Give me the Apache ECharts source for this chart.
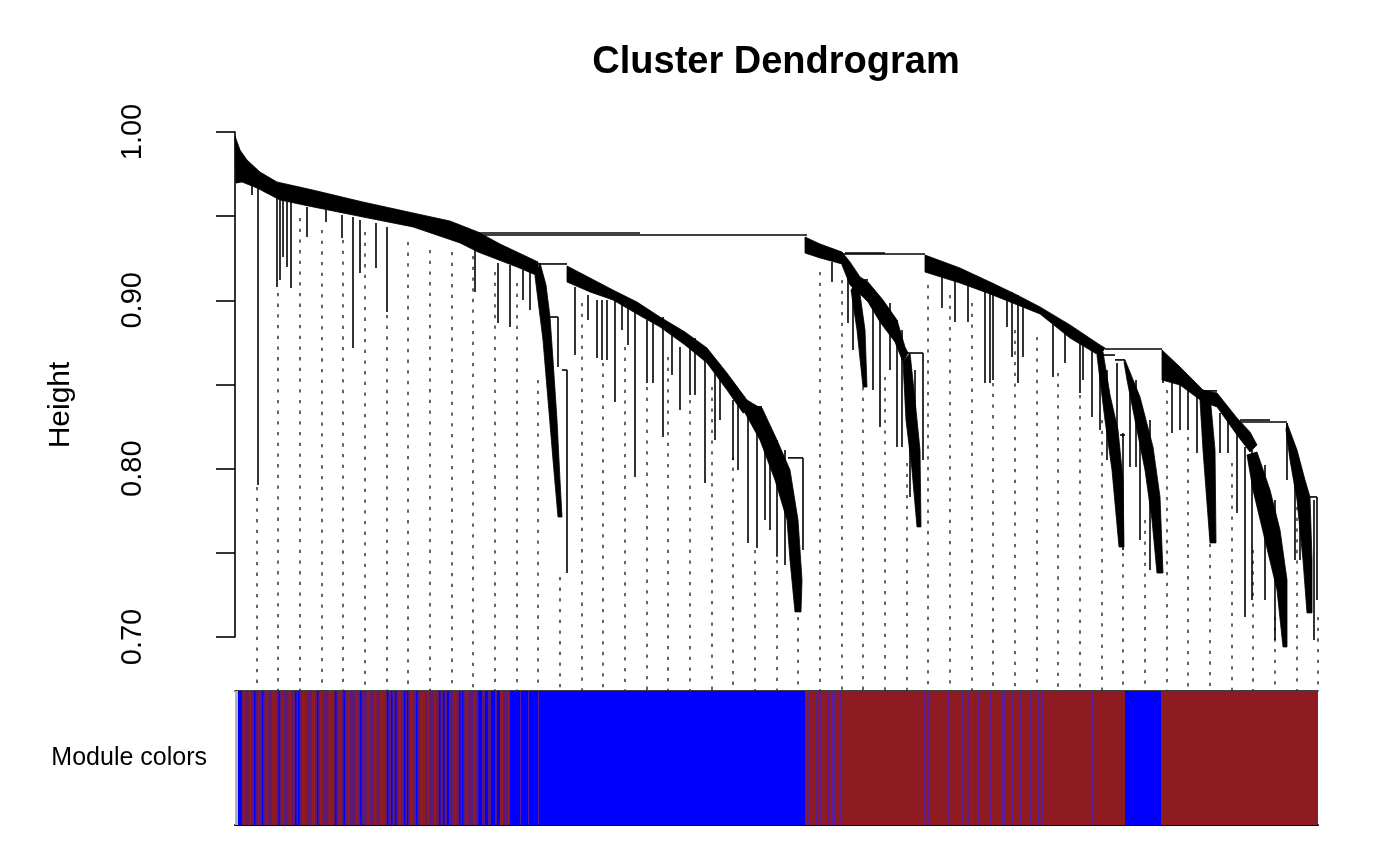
<!DOCTYPE html>
<html>
<head>
<meta charset="utf-8">
<title>Cluster Dendrogram</title>
<script src="https://cdn.jsdelivr.net/npm/echarts@6/dist/echarts.min.js"></script>
<style>
  html, body { margin: 0; padding: 0; background: #fff; }
  #chart { width: 1400px; height: 865px; }
</style>
</head>
<body>
<div id="chart"></div>
<script>
// Cluster dendrogram + module colour bar (WGCNA style)
// x = leaf order (0..1083), y = merge height

const LEAF_COUNT = 1083;
const yTickLabels = ['0.70', '0.80', '0.90', '1.00'];

// dense merge "spines", outline: [leaf, height]
const bandA = [[0,0.9976],[5,0.9893],[12,0.9834],[25,0.9762],[42,0.9703],[78,0.9655],[128,0.9584],[178,0.9519],[215,0.9471],[243,0.9406],[265,0.9335],[282,0.9287],[303,0.9228],
  [303,0.9145],[282,0.9198],[243,0.9287],[225,0.9341],[178,0.9436],[128,0.9495],[78,0.9555],[45,0.9596],[22,0.9667],[7,0.9703],[1,0.9697]];
const bandA2 = [[305,0.9222],[311,0.9091],[315,0.8901],[318,0.8646],[322,0.8289],[325,0.7933],[327,0.7713],
  [323,0.7713],[318,0.8052],[313,0.8408],[308,0.8764],[303,0.9002],[300,0.9145]];
const bandA3 = [[332,0.9204],[355,0.9133],[378,0.9061],[402,0.8990],[425,0.8901],[450,0.8812],[472,0.8717],[492,0.8568],[512,0.8408],[525,0.8361],
  [508,0.8331],[492,0.8467],[472,0.8628],[450,0.8735],[425,0.8842],[402,0.8919],[378,0.9002],[355,0.9050],[332,0.9109]];
const bandA3tail = [[512,0.8390],[527,0.8361],[542,0.8170],[555,0.7992],[563,0.7695],[567,0.7339],[566,0.7149],
  [560,0.7149],[555,0.7457],[552,0.7695],[540,0.7933],[525,0.8170],[510,0.8331]];
const bandB = [[570,0.9376],[585,0.9335],[607,0.9287],[607,0.9216],[585,0.9252],[570,0.9281]];
const bandBtail = [[607,0.9287],[615,0.9228],[625,0.9139],[633,0.9109],[648,0.9002],[662,0.8883],[670,0.8723],[673,0.8687],
  [668,0.8634],[660,0.8752],[645,0.8871],[633,0.8990],[623,0.9050],[615,0.9091],[607,0.9210]];
const bandBsub = [[623,0.9121],[630,0.8824],[632,0.8485],[628,0.8485],[622,0.8824],[616,0.9061]];
const bandBtail2 = [[675,0.8687],[680,0.8408],[685,0.8111],[686,0.7654],[682,0.7654],[677,0.7992],[671,0.8289],[668,0.8634]];
const bandC = [[690,0.9269],[725,0.9192],[755,0.9109],[780,0.9038],[805,0.8961],[835,0.8854],[865,0.8735],[870,0.8717],
  [865,0.8669],[835,0.8776],[805,0.8919],[755,0.9038],[725,0.9103],[690,0.9168]];
const bandCtailL = [[868,0.8693],[875,0.8438],[883,0.8230],[888,0.7933],[889,0.7535],[884,0.7535],[877,0.7992],[870,0.8289],[865,0.8527],[862,0.8675]];
const bandCtailR = [[890,0.8646],[905,0.8426],[918,0.8129],[925,0.7832],[928,0.7380],[922,0.7380],[917,0.7695],[910,0.7992],[900,0.8289],[892,0.8527],[889,0.8634]];
const bandD = [[927,0.8705],[945,0.8604],[968,0.8467],[982,0.8450],[1002,0.8301],[1015,0.8218],[1022,0.8141],
  [1015,0.8099],[1002,0.8200],[982,0.8367],[968,0.8396],[945,0.8497],[927,0.8527]];
const bandDsub = [[975,0.8438],[980,0.8111],[981,0.7559],[975,0.7559],[968,0.8111],[965,0.8408]];
const bandDtail = [[1022,0.8099],[1035,0.7873],[1045,0.7636],[1052,0.7339],[1052,0.6941],[1048,0.6941],[1042,0.7279],[1030,0.7576],[1018,0.7873],[1012,0.8081]];
const bandE = [[1052,0.8271],[1062,0.8111],[1070,0.7933],[1075,0.7832],[1077,0.7457],[1077,0.7143],
  [1072,0.7143],[1068,0.7457],[1062,0.7814],[1055,0.8052],[1051,0.8230]];

// single hanging branches: [leaf, top height, bottom height]
const dropsA = [[3,0.9816,0.9697],[17,0.9697,0.9626],[23,0.9667,0.7903],[42,0.9608,0.9079],[45,0.9602,0.9121],[48,0.9596,0.9257],
  [52,0.9584,0.9198],[56,0.9584,0.9073],[72,0.9555,0.9376],[91,0.9537,0.9465],[107,0.9507,0.9370],[118,0.9495,0.8717],
  [125,0.9477,0.9162],[141,0.9459,0.9192],[152,0.9436,0.8931],[240,0.9311,0.9050],[263,0.9222,0.8865],[275,0.9210,0.8842],
  [288,0.9180,0.9002],[295,0.9168,0.8943],[323,0.8901,0.8604],[332,0.8586,0.7380]];
const dropsB = [[340,0.9079,0.8675],[353,0.9032,0.8883],[362,0.9002,0.8658],[367,0.9002,0.8646],[372,0.9002,0.8646],[380,0.9044,0.8396],
  [387,0.9020,0.8824],[393,0.9014,0.8735],[400,0.8984,0.7951],[412,0.8883,0.8509],[418,0.8883,0.8509],[428,0.8901,0.8188],
  [437,0.8854,0.8557],[445,0.8723,0.8349],[455,0.8764,0.8438],[460,0.8776,0.8438],[470,0.8705,0.7915],[480,0.8646,0.8170],
  [485,0.8616,0.8289],[498,0.8408,0.8052],[503,0.8438,0.7992],[513,0.8390,0.7559],[522,0.8307,0.7529],[530,0.8289,0.7695],
  [535,0.8230,0.7636],[542,0.8170,0.7476],[550,0.8111,0.7428],[568,0.8064,0.7517],[597,0.9228,0.9109]];
const dropsC = [[613,0.9139,0.8865],[618,0.9180,0.8705],[638,0.9061,0.8467],[645,0.9020,0.8248],[655,0.8984,0.8586],[662,0.8883,0.8129],
  [667,0.8824,0.8129],[675,0.8646,0.7832],[680,0.8586,0.7903],[688,0.8687,0.8052],
  [707,0.9228,0.8955],[720,0.9198,0.8871],[733,0.9168,0.8871],[750,0.9121,0.8509],[755,0.9109,0.8509],[758,0.9103,0.8527],
  [772,0.9061,0.8842],[777,0.9050,0.8663],[783,0.9032,0.8509],[788,0.9014,0.8663],[818,0.8895,0.8545],[830,0.8854,0.8628],
  [845,0.8794,0.8450],[848,0.8782,0.8527],[857,0.8735,0.8307]];
const dropsD = [[865,0.8646,0.8230],[872,0.8586,0.8052],[882,0.8628,0.7992],[888,0.8212,0.7517],[895,0.8568,0.8010],[901,0.8527,0.8010],
  [905,0.8408,0.7576],[915,0.8289,0.7398],[928,0.8628,0.8509],[937,0.8568,0.8212],
  [945,0.8527,0.8230],[953,0.8497,0.8230],[962,0.8426,0.8093],[985,0.8331,0.8093],[993,0.8301,0.8093],[1002,0.8230,0.7737],
  [1010,0.8129,0.7119],[1017,0.8111,0.7220],[1030,0.8022,0.7220],[1040,0.7814,0.6982],[1052,0.8271,0.7933],
  [1060,0.7933,0.7457],[1065,0.7873,0.7457],[1079,0.7814,0.6982],[1082,0.7832,0.7220]];

// merges between sub-clusters: [left leaf, right leaf, height]
const merges = [[243,572,0.9388],[243,405,0.9400],[303,332,0.9216],[315,323,0.8901],[327,332,0.8586],[515,527,0.8367],
  [553,568,0.8064],[607,690,0.9275],[610,650,0.9281],[623,633,0.9121],[670,688,0.8687],[870,927,0.8711],[868,880,0.8675],
  [880,890,0.8646],[885,890,0.8200],[968,982,0.8462],[1002,1052,0.8277],[1005,1035,0.8289],[1015,1020,0.8081],[1075,1082,0.7832]];

// dotted guide lines, one every 1/50 of the leaves
const guideLeaves = [22,43,65,87,108,130,152,173,195,217,238,260,282,303,325,347,368,390,412,433,
  455,477,498,520,542,563,585,607,628,650,672,693,715,737,758,780,802,823,845,867,
  888,910,932,953,975,997,1018,1040,1062,1083];
const guideTops = [0.7891,0.9044,0.9489,0.9418,0.9358,0.9406,0.8913,0.9347,0.9299,0.9287,
  0.9263,0.9168,0.9103,0.8527,0.7357,0.8984,0.8628,0.8723,0.8485,0.8663,
  0.8408,0.8485,0.8070,0.7517,0.7457,0.7119,0.9168,0.9121,0.8485,0.8545,
  0.8034,0.9091,0.9032,0.8984,0.8509,0.8824,0.8782,0.8568,0.8438,0.8289,
  0.7499,0.7695,0.8467,0.8188,0.7618,0.8034,0.7517,0.7119,0.7772,0.7119];
const GUIDE_FLOOR = 0.66792;

// module colour bar: runs of leaves [from, to]
const greyRuns = [[0,3]];
const mixedRuns = [[6,275]];
const blueRuns = [[3,6],[275,570],[890,926]];
const brownRuns = [[570,890],[926,1083]];
const brownStripes = [[7.7,10],[13.3,16.7],[23.3,25],[30,33.3],[36.7,41.7],[46.7,48.3],[53.3,56.7],[66.7,70],[71,72.3],[76.7,80],
  [85,88.3],[93.3,98.3],[103.3,106.7],[111.7,115],[120,123.3],[131.7,135],[138.3,141.7],[145,150],[163.3,166.7],[175,178.3],
  [185,190],[191.7,194.3],[198.3,201.7],[218.3,221.7],[230,233.3],[238.3,241],[265,268.3],[272.3,274.3]];
const blueStripes = [[5.7,7],[19,20.5],[27,28.3],[43.5,44.8],[60,61.5],[63,64.5],[82,83.3],[100,101.5],[108.5,110],[125,126.5],
  [152,153.5],[156,157.5],[160,161.5],[169,170.5],[172,173.3],[181,182.5],[204,205.5],[208,209.5],[212,214],[224,225.5],
  [227,228.3],[243.3,247],[250,253],[256,260],[262,265]];
const tintLines = [285,293,303,573,581,582,585,592,593,597,599,602,605,689,693,696,700,702,704,708,713,722,724,727,730,733,
  740,743,755,762,767,769,777,780,785,792,795,803,807,822,828,857,866];

const bands = [bandA, bandA2, bandA3, bandA3tail, bandB, bandBtail, bandBsub, bandBtail2, bandC, bandCtailL, bandCtailR,
  bandD, bandDsub, bandDtail, bandE];

const FONT = '"Liberation Sans", Arial, Helvetica, sans-serif';
const MODULE_COLORS = { grey: '#b4b4b4', mixed: '#5c1a78', blue: '#0000ff', brown: '#8e1b22', tint: '#5a1c96' };

function bandRender(params, api) {
  const pts = bands[params.dataIndex].map(p => api.coord(p));
  return { type: 'polygon', shape: { points: pts }, style: { fill: '#000', stroke: '#000', lineWidth: 0.8 } };
}

function dropRender(params, api) {
  const a = api.coord([api.value(0), api.value(1)]);
  const b = api.coord([api.value(0), api.value(2)]);
  return { type: 'line', shape: { x1: a[0], y1: a[1], x2: b[0], y2: b[1] }, style: { stroke: '#000', lineWidth: 1.6 } };
}

function mergeRender(params, api) {
  const a = api.coord([api.value(0), api.value(2)]);
  const b = api.coord([api.value(1), api.value(2)]);
  return { type: 'line', shape: { x1: a[0], y1: a[1], x2: b[0], y2: b[1] }, style: { stroke: '#000', lineWidth: 1.6 } };
}

function guideRender(params, api) {
  const a = api.coord([api.value(0), api.value(1)]);
  const b = api.coord([api.value(0), GUIDE_FLOOR]);
  return { type: 'line', shape: { x1: a[0], y1: a[1], x2: b[0], y2: b[1] },
    style: { stroke: '#333', lineWidth: 1.5, lineDash: [3.3, 7.4] } };
}

function runSeries(runs, color, minWidth) {
  return {
    type: 'custom', xAxisIndex: 2, yAxisIndex: 2, silent: true,
    data: runs,
    renderItem: (params, api) => {
      const a = api.coord([api.value(0), 1]);
      const b = api.coord([api.value(1), 0]);
      return { type: 'rect', shape: { x: a[0], y: a[1], width: Math.max(b[0] - a[0], minWidth || 0), height: b[1] - a[1] },
        style: { fill: color } };
    }
  };
}

const chart = echarts.init(document.getElementById('chart'), null, { renderer: 'canvas' });

chart.setOption({
  animation: false,
  backgroundColor: '#fff',
  title: {
    text: 'Cluster Dendrogram', left: 776, top: 44, textAlign: 'center', padding: 0,
    textStyle: { fontFamily: FONT, fontSize: 38, fontWeight: 'bold', color: '#000' }
  },
  grid: [
    { left: 235, width: 1083, top: 119, height: 572 },   // dendrogram
    { left: 235, width: 1083, top: 132, height: 505 },   // visible height axis
    { left: 235, width: 1083, top: 691, height: 134 }    // colour bar
  ],
  xAxis: [
    { gridIndex: 0, type: 'value', min: 0, max: LEAF_COUNT, position: 'bottom',
      axisLine: { show: true, onZero: false, lineStyle: { color: '#000', width: 1.6 } },
      axisTick: { show: false }, axisLabel: { show: false }, splitLine: { show: false } },
    { gridIndex: 1, type: 'value', min: 0, max: LEAF_COUNT, show: false },
    { gridIndex: 2, type: 'value', min: 0, max: LEAF_COUNT, position: 'bottom',
      axisLine: { show: true, onZero: false, lineStyle: { color: '#000', width: 2 } },
      axisTick: { show: false }, axisLabel: { show: false }, splitLine: { show: false } }
  ],
  yAxis: [
    { gridIndex: 0, type: 'value', min: GUIDE_FLOOR, max: 1.00772, offset: 44,
      name: 'Height', nameLocation: 'middle', nameGap: 115, nameRotate: 90,
      nameTextStyle: { fontFamily: FONT, fontSize: 30, color: '#000' },
      axisLine: { show: false }, axisTick: { show: false }, axisLabel: { show: false }, splitLine: { show: false } },
    { gridIndex: 1, type: 'value', min: 0.70, max: 1.00, interval: 0.05, offset: 44,
      axisLine: { show: true, lineStyle: { color: '#000', width: 1.6 } },
      axisTick: { show: true, length: 19, lineStyle: { color: '#000', width: 1.6 } },
      axisLabel: {
        show: true, rotate: 90, margin: 44, fontFamily: FONT, fontSize: 29, color: '#000',
        formatter: v => (yTickLabels.indexOf(v.toFixed(2)) >= 0 ? v.toFixed(2) : '')
      },
      splitLine: { show: false } },
    { gridIndex: 2, type: 'value', min: 0, max: 1,
      name: 'Module colors', nameLocation: 'middle', nameGap: 28, nameRotate: 0,
      nameTextStyle: { fontFamily: FONT, fontSize: 25, color: '#000' },
      axisLine: { show: false }, axisTick: { show: false }, axisLabel: { show: false }, splitLine: { show: false } }
  ],
  series: [
    { type: 'custom', xAxisIndex: 0, yAxisIndex: 0, silent: true,
      data: guideLeaves.map((x, i) => [x, guideTops[i]]), renderItem: guideRender },
    { type: 'custom', xAxisIndex: 0, yAxisIndex: 0, silent: true,
      data: bands.map((b, i) => [b[0][0], b[0][1], i]), renderItem: bandRender },
    { type: 'custom', xAxisIndex: 0, yAxisIndex: 0, silent: true,
      data: dropsA.concat(dropsB, dropsC, dropsD), renderItem: dropRender },
    { type: 'custom', xAxisIndex: 0, yAxisIndex: 0, silent: true,
      data: merges, renderItem: mergeRender },
    runSeries(mixedRuns, MODULE_COLORS.mixed),
    runSeries(greyRuns, MODULE_COLORS.grey),
    runSeries(blueRuns, MODULE_COLORS.blue),
    runSeries(brownRuns, MODULE_COLORS.brown),
    runSeries(brownStripes, MODULE_COLORS.brown),
    runSeries(blueStripes, MODULE_COLORS.blue),
    runSeries(tintLines.map(x => [x, x + 1]), MODULE_COLORS.tint, 1)
  ]
});
</script>
</body>
</html>
